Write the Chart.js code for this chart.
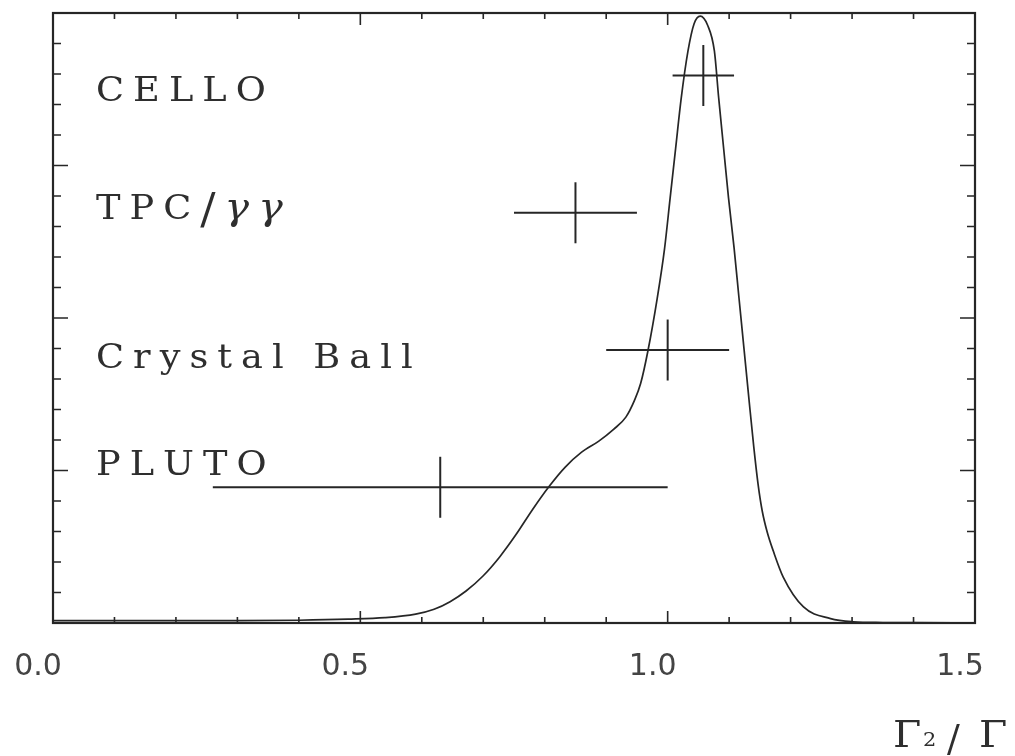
<!DOCTYPE html>
<html>
<head>
<meta charset="utf-8">
<script src="https://cdn.jsdelivr.net/npm/chart.js@4.4.1/dist/chart.umd.min.js"></script>
<style>
html,body{margin:0;padding:0;background:#fff;}
#wrap{width:1015px;height:756px;position:relative;}
</style>
</head>
<body>
<div id="wrap"><canvas id="c" width="1015" height="756"></canvas></div>
<script>
// ---- data ----
const curveX = [0.00,0.10,0.20,0.30,0.40,0.48,0.54,0.59,0.62,0.646,0.672,0.700,0.727,0.753,0.780,0.807,0.833,0.860,0.888,0.912,0.932,0.946,0.956,0.968,0.983,0.995,1.004,1.013,1.022,1.033,1.043,1.053,1.065,1.076,1.083,1.091,1.099,1.108,1.116,1.124,1.132,1.140,1.147,1.154,1.162,1.172,1.188,1.221,1.265,1.302,1.35,1.40,1.50];
const curveY = [0.015,0.015,0.015,0.015,0.018,0.025,0.035,0.058,0.09,0.14,0.21,0.31,0.435,0.578,0.743,0.895,1.021,1.120,1.193,1.27,1.35,1.46,1.57,1.787,2.129,2.457,2.786,3.114,3.44,3.750,3.93,3.98,3.92,3.751,3.443,3.115,2.788,2.461,2.133,1.806,1.478,1.158,0.913,0.731,0.595,0.47,0.301,0.105,0.029,0.008,0.003,0.002,0.001];

const experiments = ['CELLO','TPC/γγ','Crystal Ball','PLUTO'];
const expValue    = [1.058, 0.85, 1.00, 0.63];
const expErrLow   = [0.05, 0.10, 0.10, 0.37];
const expErrHigh  = [0.05, 0.10, 0.10, 0.37];
const expRow      = [3.59, 2.69, 1.79, 0.89];

const xTickValues = [0.0, 0.5, 1.0, 1.5];
const xTickLabels = ['0.0','0.5','1.0','1.5'];

// ---- build datasets ----
const INK = '#262626';
const BAR_HALF = 0.2; // vertical half-size of the cross marks (y units)

const datasets = [{
  label: 'curve',
  data: curveX.map((x,i)=>({x:x, y:curveY[i]})),
  showLine: true,
  pointRadius: 0,
  borderColor: INK,
  borderWidth: 1.7,
  cubicInterpolationMode: 'monotone',
  fill: false
}];
experiments.forEach((name,i)=>{
  datasets.push({
    label: name + ' h',
    data: [{x: expValue[i]-expErrLow[i], y: expRow[i]}, {x: expValue[i]+expErrHigh[i], y: expRow[i]}],
    showLine: true, pointRadius: 0, borderColor: INK, borderWidth: 2
  });
  datasets.push({
    label: name + ' v',
    data: [{x: expValue[i], y: expRow[i]-BAR_HALF}, {x: expValue[i], y: expRow[i]+BAR_HALF}],
    showLine: true, pointRadius: 0, borderColor: INK, borderWidth: 2
  });
});

// ---- frame with inward ticks ----
const frameTicks = {
  id: 'frameTicks',
  afterDatasetsDraw(chart){
    const {ctx, chartArea:{left,right,top,bottom}, scales:{x,y}} = chart;
    ctx.save();
    ctx.strokeStyle = INK;
    ctx.lineWidth = 2.2;
    ctx.strokeRect(left, top, right-left, bottom-top);
    ctx.lineWidth = 1.6;
    ctx.beginPath();
    for (let i=0;i<=15;i++){
      const px = x.getPixelForValue(i/10);
      const len = (i%5===0) ? 12 : 6;
      ctx.moveTo(px, bottom); ctx.lineTo(px, bottom-len);
      ctx.moveTo(px, top); ctx.lineTo(px, top+len);
    }
    for (let i=0;i<=20;i++){
      const py = y.getPixelForValue(i*0.2);
      const len = (i%5===0) ? 15 : 8;
      ctx.moveTo(left, py); ctx.lineTo(left+len, py);
      ctx.moveTo(right, py); ctx.lineTo(right-len, py);
    }
    ctx.stroke();
    ctx.restore();
  }
};

// ---- experiment labels and axis title ----
function drawGlyph(ctx, ch, px, py, font, sx){
  ctx.save();
  ctx.font = font;
  ctx.translate(px, py);
  ctx.scale(sx, 1);
  ctx.fillText(ch, 0, 0);
  const w = ctx.measureText(ch).width * sx;
  ctx.restore();
  return w;
}
const textLabels = {
  id: 'textLabels',
  afterDatasetsDraw(chart, args, opts){
    const {ctx, chartArea, scales:{x,y}} = chart;
    ctx.save();
    ctx.fillStyle = '#2e2e2e';
    ctx.textBaseline = 'alphabetic';
    ctx.textAlign = 'left';
    experiments.forEach((name,i)=>{
      let px = x.getPixelForValue(opts.labelX);
      const py = y.getPixelForValue(opts.labelY[i]);
      for (const ch of name){
        const greek = /[\u03b1-\u03c9]/.test(ch);
        let font = opts.size + 'px "DejaVu Serif"';
        if (greek) font = 'italic ' + opts.greekSize + 'px "DejaVu Serif"';
        else if (ch === '/') font = opts.slashSize + 'px "DejaVu Serif"';
        px += drawGlyph(ctx, ch, px, py + (ch==='/' ? 4 : 0), font, opts.scaleX) + opts.spacing;
      }
    });
    // axis title  Γ2 / Γ
    const base = chart.height - 9;
    const tx = chartArea.right - 82;
    drawGlyph(ctx, 'Γ', tx, base, '37px "DejaVu Serif"', 1.1);
    drawGlyph(ctx, '2', tx + 30, base - 1, '19px "DejaVu Serif"', 1.1);
    drawGlyph(ctx, '/', tx + 54, base + 4, '38px "DejaVu Serif"', 1);
    drawGlyph(ctx, 'Γ', tx + 86, base, '37px "DejaVu Serif"', 1.1);
    ctx.restore();
  }
};

new Chart(document.getElementById('c'), {
  type: 'scatter',
  data: { datasets },
  options: {
    responsive: false,
    animation: false,
    devicePixelRatio: 1,
    layout: { padding: { left: 53, right: 40, top: 13, bottom: 71 } },
    plugins: {
      legend: { display: false },
      tooltip: { enabled: false },
      textLabels: { labelX: 0.07, labelY: [3.42, 2.65, 1.67, 0.97], size: 34, greekSize: 38, slashSize: 42, spacing: 9, scaleX: 1.08 }
    },
    scales: {
      x: {
        type: 'linear', min: 0, max: 1.5,
        afterBuildTicks: (s)=>{ s.ticks = xTickValues.map(v=>({value:v})); },
        grid: { display: false, drawTicks: true, tickLength: 26 },
        border: { display: false },
        ticks: {
          padding: 0,
          labelOffset: -15,
          color: '#444',
          font: { family: 'DejaVu Sans', size: 30 },
          maxRotation: 0,
          autoSkip: false,
          callback: (v)=>{ const k = xTickValues.indexOf(v); return k>=0 ? xTickLabels[k] : ''; }
        }
      },
      y: { type: 'linear', min: 0, max: 4, display: false }
    }
  },
  plugins: [frameTicks, textLabels]
});
</script>
</body>
</html>
